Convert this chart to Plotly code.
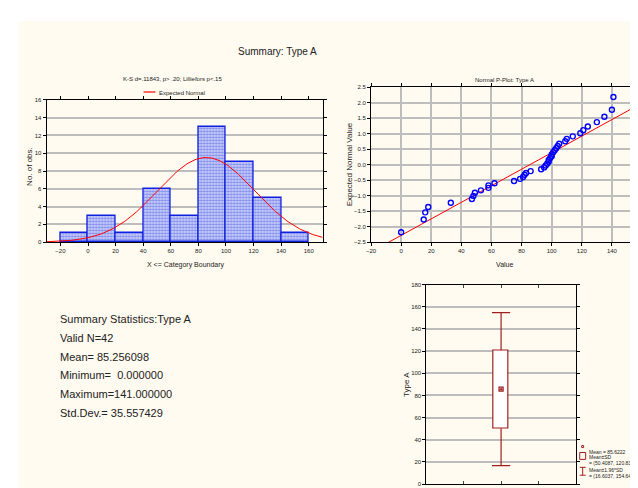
import numpy as np
import plotly.graph_objects as go

W, H = 638, 488

# ---------------- data ----------------
# Histogram (X <= category boundary)
bin_right = [0, 20, 40, 60, 80, 100, 120, 140, 160]
bin_counts = [1, 3, 1, 6, 3, 13, 9, 5, 1]
bin_width = 20

# Normal probability plot: sorted observed values and expected normal values
pp_values = [0, 15, 16, 18, 33, 47, 48, 49, 53, 58, 58, 62, 75, 79,
             81, 82, 83, 86, 93, 95, 96, 97, 98, 98, 99, 100, 100,
             101, 102, 103, 104, 105, 109, 110, 114, 119,
             121, 124, 130, 135, 140, 141]
pp_expected = [-2.18, -1.77, -1.54, -1.37, -1.23, -1.11, -1.01, -0.91, -0.83, -0.75,
               -0.67, -0.60, -0.53, -0.46, -0.40, -0.33, -0.27, -0.21, -0.15, -0.09,
               -0.03, 0.03, 0.09, 0.15, 0.21, 0.27, 0.33, 0.40, 0.46, 0.53,
               0.60, 0.67, 0.75, 0.83, 0.91, 1.01, 1.11, 1.23, 1.37, 1.54,
               1.77, 2.18]
pp_line_center = 85.6
pp_line_scale = 37.5

# Box plot statistics
mean_val = 85.6222
sd_val = 35.2135
n_valid = 42

summary_lines = ["Summary Statistics:Type A", "Valid N=42", "Mean= 85.256098",
                 "Minimum=  0.000000", "Maximum=141.000000", "Std.Dev.= 35.557429"]

# ---------------- helpers ----------------
def px(x):
    return x / W

def py(y):
    return 1 - y / H

FONT = "Liberation Sans, Arial, sans-serif"
CREAM = "#fffbf0"
RED = "#ff0000"
BOXC = "#a02020"
GRID = "#bdbdbd"

fig = go.Figure()

# ---- histogram ----
centers = [r - bin_width / 2 for r in bin_right]
fig.add_trace(go.Bar(
    x=centers, y=bin_counts, width=[bin_width] * len(centers),
    marker=dict(color="#d8ddff",
                line=dict(color="#1020e0", width=1.3),
                pattern=dict(shape=".", fgcolor="#2030d8", bgcolor="#e2e6ff", size=3, solidity=0.65)),
    xaxis="x", yaxis="y", showlegend=False))

xc = np.linspace(-30, 170, 241)
yc = n_valid * bin_width * np.exp(-0.5 * ((xc - mean_val) / sd_val) ** 2) / (sd_val * np.sqrt(2 * np.pi))
fig.add_trace(go.Scatter(x=xc, y=yc, mode="lines", line=dict(color=RED, width=1),
                         xaxis="x", yaxis="y", showlegend=False))

# ---- normal probability plot ----
xl = np.array([-30, 170])
fig.add_trace(go.Scatter(x=xl, y=(xl - pp_line_center) / pp_line_scale, mode="lines",
                         line=dict(color=RED, width=1), xaxis="x2", yaxis="y2", showlegend=False))
fig.add_trace(go.Scatter(x=pp_values, y=pp_expected, mode="markers",
                         marker=dict(symbol="circle-open", color="#0000ff", size=5,
                                     line=dict(width=1.4, color="#0000ff")),
                         xaxis="x2", yaxis="y2", showlegend=False))

# ---- box plot (mean, mean±SD, mean±1.96SD) ----
lo1, hi1 = mean_val - sd_val, mean_val + sd_val
lo2, hi2 = mean_val - 1.96 * sd_val, mean_val + 1.96 * sd_val
fig.add_trace(go.Scatter(x=[2, 2, None, 2, 2], y=[hi1, hi2, None, lo1, lo2], mode="lines",
                         line=dict(color=BOXC, width=1.2), xaxis="x3", yaxis="y3", showlegend=False))
fig.add_trace(go.Scatter(x=[2, 2], y=[lo2, hi2], mode="markers",
                         marker=dict(symbol="line-ew-open", size=13, color=BOXC,
                                     line=dict(color=BOXC, width=1.3)),
                         xaxis="x3", yaxis="y3", showlegend=False))
fig.add_trace(go.Bar(x=[2], y=[hi1 - lo1], base=[lo1], width=[0.4],
                     marker=dict(color="white", line=dict(color=BOXC, width=1.2)),
                     xaxis="x3", yaxis="y3", showlegend=False))
fig.add_trace(go.Scatter(x=[2], y=[mean_val], mode="markers",
                         marker=dict(symbol="square-dot", size=4, color="white",
                                     line=dict(color=BOXC, width=1.3)),
                         xaxis="x3", yaxis="y3", showlegend=False))

axis_common = dict(showline=True, linecolor="black", linewidth=1, mirror="ticks",
                   ticks="outside", ticklen=3, tickcolor="black", zeroline=False,
                   tickfont=dict(size=6, color="#222"), gridcolor=GRID, gridwidth=1.5)

fig.update_layout(
    width=W, height=H, margin=dict(l=0, r=0, t=0, b=0),
    paper_bgcolor="white", plot_bgcolor="white",
    font=dict(family=FONT, color="#222"),
    bargap=0,
    xaxis=dict(domain=[px(34), px(313)], range=[-30, 170], tick0=-20, dtick=20, showgrid=False,
               anchor="y", **axis_common),
    yaxis=dict(domain=[py(234), py(90)], range=[0, 16], dtick=2, showgrid=True,
               anchor="x", **axis_common),
    xaxis2=dict(domain=[px(362), px(636)], range=[-20, 160], dtick=20, showgrid=True,
                anchor="y2", **axis_common),
    yaxis2=dict(domain=[py(234), py(77)], range=[-2.5, 2.5], dtick=0.5, tickformat=".1f",
                showgrid=True, anchor="x2", **axis_common),
    xaxis3=dict(domain=[px(418), px(569)], range=[0, 4], tickvals=[1, 2, 3], showticklabels=False,
                showgrid=False, anchor="y3", showline=True, linecolor="black", mirror="ticks",
                ticks="inside", ticklen=3, zeroline=False),
    yaxis3=dict(domain=[py(479), py(277)], range=[0, 180], dtick=20, showgrid=True,
                anchor="x3", **axis_common),
)

shapes = [dict(type="rect", xref="paper", yref="paper", x0=px(6), x1=1, y0=0, y1=py(10),
               fillcolor=CREAM, line=dict(width=0), layer="below")]

ann = []
def text(x, y, s, size, anchor="center", angle=0, color="#222"):
    ann.append(dict(x=px(x), y=py(y), xref="paper", yref="paper", text=s, showarrow=False,
                    xanchor=anchor, yanchor="middle", textangle=angle,
                    font=dict(size=size, family=FONT, color=color)))

text(267, 41, "Summary: Type A", 10)
text(161, 69, "K-S d=.11843, p> .20; Lilliefors p<.15", 6)
text(146, 83, "Expected Normal", 6, anchor="left")
shapes.append(dict(type="line", xref="paper", yref="paper", x0=px(132), x1=px(144),
                   y0=py(82), y1=py(82), line=dict(color=RED, width=1.2)))
text(175, 257, "X <= Category Boundary", 7)
text(16, 157, "No. of obs.", 8, angle=-90)
text(497, 70, "Normal P-Plot: Type A", 6)
text(497, 257, "Value", 7)
text(340, 155, "Expected Normal Value", 8, angle=-90)
text(398, 378, "Type A", 8, angle=-90)

for i, s in enumerate(summary_lines):
    text(45, 312 + i * 19, s, 11, anchor="left")

# box-plot legend
LF = 5
text(580, 446, "Mean = %.4f" % mean_val, LF, anchor="left")
text(580, 452, "Mean±SD", LF, anchor="left")
text(580, 458, "= (%.4f, %.4f)" % (lo1, hi1), LF, anchor="left")
text(580, 465, "Mean±1.96*SD", LF, anchor="left")
text(580, 471, "= (%.4f, %.4f)" % (lo2, hi2), LF, anchor="left")
shapes.append(dict(type="rect", xref="paper", yref="paper", x0=px(575), x1=px(577),
                   y0=py(442), y1=py(440), line=dict(color=BOXC, width=1)))
shapes.append(dict(type="rect", xref="paper", yref="paper", x0=px(573), x1=px(579),
                   y0=py(454), y1=py(447), line=dict(color=BOXC, width=1)))
shapes.append(dict(type="line", xref="paper", yref="paper", x0=px(576), x1=px(576),
                   y0=py(470), y1=py(462), line=dict(color=BOXC, width=1)))
shapes.append(dict(type="line", xref="paper", yref="paper", x0=px(573), x1=px(579),
                   y0=py(462), y1=py(462), line=dict(color=BOXC, width=1)))
shapes.append(dict(type="line", xref="paper", yref="paper", x0=px(573), x1=px(579),
                   y0=py(470), y1=py(470), line=dict(color=BOXC, width=1)))

fig.update_layout(shapes=shapes, annotations=ann)
fig.write_html("out.html")
